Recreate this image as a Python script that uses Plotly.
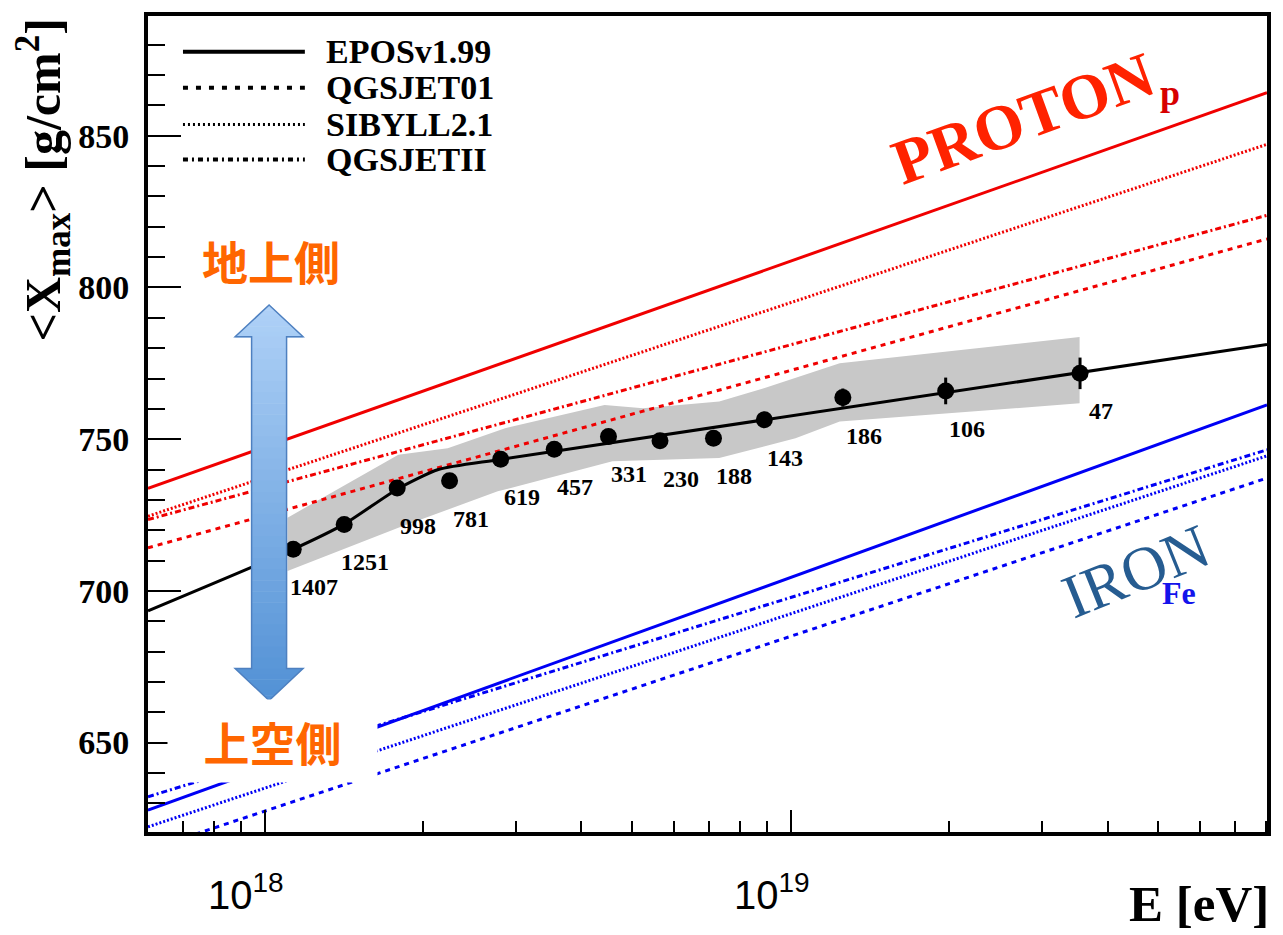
import numpy as np
import plotly.graph_objects as go

# ---------------- data ----------------
energy_eV = [1.133e18, 1.416e18, 1.786e18, 2.246e18, 2.809e18, 3.551e18, 4.503e18,
             5.642e18, 7.130e18, 8.907e18, 1.256e19, 1.970e19, 3.547e19]
xmax_mean = [713.7, 721.9, 733.9, 736.3, 743.4, 746.7, 750.9, 749.5, 750.3, 756.4, 763.7, 765.9, 771.7]
xmax_err = [2.0, 2.0, 2.0, 2.0, 2.0, 2.0, 2.0, 2.2, 2.4, 2.6, 3.0, 4.4, 5.2]
n_events = [1407, 1251, 998, 781, 619, 457, 331, 230, 188, 143, 186, 106, 47]

fit_energy_eV = [6.0e17, 1.132e18, 1.416e18, 1.786e18, 2.138e18, 2.818e18, 8.04e19]
fit_xmax = [693.4, 713.7, 722.0, 733.5, 740.0, 743.4, 781.2]

band_upper_E = [1.105e18, 1.795e18, 2.228e18, 2.864e18, 4.426e18, 5.236e18, 7.311e18, 8.892e18, 1.239e19, 3.540e19]
band_upper = [724.1, 744.9, 747.0, 753.6, 761.3, 760.2, 762.4, 766.8, 775.0, 783.7]
band_lower_E = [1.105e18, 1.795e18, 2.773e18, 4.581e18, 7.311e18, 1.021e19, 1.239e19, 3.540e19]
band_lower = [706.5, 720.8, 732.8, 742.7, 743.8, 750.3, 755.8, 761.8]

model_names = ["EPOSv1.99", "QGSJET01", "SIBYLL2.1", "QGSJETII"]
model_energy_eV = [6.0e17, 8.04e19]
proton_xmax = {
    "EPOSv1.99": [733.8, 864.2],
    "QGSJET01": [714.2, 816.0],
    "SIBYLL2.1": [724.6, 847.2],
    "QGSJETII": [723.5, 823.8],
}
iron_xmax = {
    "EPOSv1.99": [627.7, 761.3],
    "QGSJET01": [614.6, 737.2],
    "SIBYLL2.1": [622.2, 744.5],
    "QGSJETII": [632.1, 746.5],
}

y_major_ticks = [650, 700, 750, 800, 850]
x_label_vals = [1e18, 1e19]
x_label_text = ["10<sup>18</sup>", "10<sup>19</sup>"]

# ---------------- styles ----------------
dash_style = {
    "EPOSv1.99": "solid",
    "QGSJET01": "5px,5px",
    "SIBYLL2.1": "2px,2px",
    "QGSJETII": "6px,3px,2px,3px",
}
legend_dash = {
    "EPOSv1.99": "solid",
    "QGSJET01": "5px,8px",
    "SIBYLL2.1": "2px,3px",
    "QGSJETII": "5px,4px,2px,4px",
}
SERIF = "Liberation Serif, Times New Roman, serif"

W, H = 1283, 935
L, R, T, B = 148, 1268, 13, 832


def px(x):
    return (x - L) / (R - L)


def py(y):
    return (B - y) / (B - T)


fig = go.Figure()

# systematic band
fig.add_trace(go.Scatter(
    x=band_upper_E + band_lower_E[::-1],
    y=band_upper + band_lower[::-1],
    fill="toself", fillcolor="rgb(200,200,200)", line=dict(width=0),
    mode="lines", hoverinfo="skip", showlegend=False))

for name in model_names:
    fig.add_trace(go.Scatter(x=model_energy_eV, y=proton_xmax[name], mode="lines",
                             line=dict(color="rgb(240,0,0)", width=3, dash=dash_style[name]),
                             showlegend=False, name="p " + name))
    fig.add_trace(go.Scatter(x=model_energy_eV, y=iron_xmax[name], mode="lines",
                             line=dict(color="rgb(0,0,245)", width=3, dash=dash_style[name]),
                             showlegend=False, name="Fe " + name))

fig.add_trace(go.Scatter(x=fit_energy_eV, y=fit_xmax, mode="lines",
                         line=dict(color="black", width=3, shape="spline", smoothing=0.6),
                         showlegend=False))

fig.add_trace(go.Scatter(x=energy_eV, y=xmax_mean, mode="markers",
                         marker=dict(color="black", size=17),
                         error_y=dict(type="data", array=xmax_err, color="black", thickness=3, width=0),
                         showlegend=False))

# invisible trace for label axis
fig.add_trace(go.Scatter(x=[1e18], y=[700], xaxis="x2", mode="markers",
                         marker=dict(opacity=0), hoverinfo="skip", showlegend=False))

annotations = []
for e, v, n in zip(energy_eV, xmax_mean, n_events):
    annotations.append(dict(x=np.log10(e), y=v, xref="x", yref="y", text=str(n),
                            showarrow=False, xshift=21, yshift=-38,
                            xanchor="center", yanchor="middle",
                            font=dict(family=SERIF, size=24, color="black", weight="bold")))

shapes = []
# legend (drawn as key lines + texts)
legend_rows = [49, 85, 122, 157]
for name, ry in zip(model_names, legend_rows):
    shapes.append(dict(type="line", xref="paper", yref="paper",
                       x0=px(183), x1=px(305), y0=py(ry), y1=py(ry),
                       line=dict(color="black", width=4 if name != "SIBYLL2.1" else 3,
                                 dash=legend_dash[name]), layer="above"))
    annotations.append(dict(x=px(324), y=py(ry), xref="paper", yref="paper", text=name,
                            xanchor="left", yanchor="middle", showarrow=False,
                            font=dict(family=SERIF, size=34, color="black", weight="bold")))

# gradient double arrow
cx = 269.2
tip_top, base_top, base_bot, tip_bot = 303, 335, 668, 700
head_hw, shaft_hw = 34, 17.5
top_col = np.array([176, 210, 248])
bot_col = np.array([82, 145, 213])


def col_at(y):
    t = (y - tip_top) / (tip_bot - tip_top)
    c = top_col + (bot_col - top_col) * t
    return "rgb(%d,%d,%d)" % tuple(c.astype(int))


def add_slice(y0, y1, hw0, hw1):
    path = "M %f %f L %f %f L %f %f L %f %f Z" % (
        px(cx - hw0), py(y0), px(cx + hw0), py(y0),
        px(cx + hw1), py(y1), px(cx - hw1), py(y1))
    shapes.append(dict(type="path", xref="paper", yref="paper", path=path,
                       fillcolor=col_at((y0 + y1) / 2), line=dict(width=0), layer="above"))


nh = 6
for i in range(nh):
    y0 = tip_top + (base_top - tip_top) * i / nh
    y1 = tip_top + (base_top - tip_top) * (i + 1) / nh
    add_slice(y0, y1 + 0.6, head_hw * (y0 - tip_top) / (base_top - tip_top),
              head_hw * min(1, (y1 + 0.6 - tip_top) / (base_top - tip_top)))
ns = 30
for i in range(ns):
    y0 = base_top + (base_bot - base_top) * i / ns
    y1 = base_top + (base_bot - base_top) * (i + 1) / ns
    add_slice(y0, y1 + 0.6, shaft_hw, shaft_hw)
for i in range(nh):
    y0 = base_bot + (tip_bot - base_bot) * i / nh
    y1 = base_bot + (tip_bot - base_bot) * (i + 1) / nh
    add_slice(y0, min(tip_bot, y1 + 0.6), head_hw * (tip_bot - y0) / (tip_bot - base_bot),
              max(0, head_hw * (tip_bot - y1 - 0.6) / (tip_bot - base_bot)))
outline = [(cx, tip_top), (cx + head_hw, base_top), (cx + shaft_hw, base_top),
           (cx + shaft_hw, base_bot), (cx + head_hw, base_bot), (cx, tip_bot),
           (cx - head_hw, base_bot), (cx - shaft_hw, base_bot), (cx - shaft_hw, base_top),
           (cx - head_hw, base_top)]
path = "M " + " L ".join("%f %f" % (px(a), py(b)) for a, b in outline) + " Z"
shapes.append(dict(type="path", xref="paper", yref="paper", path=path,
                   line=dict(color="rgb(78,128,192)", width=1.5), layer="above"))


def ptxt(x, y, text, font, **kw):
    d = dict(x=px(x), y=py(y), xref="paper", yref="paper", text=text, showarrow=False,
             xanchor="center", yanchor="middle", font=font)
    d.update(kw)
    return d


# texts
annotations += [
    ptxt(271, 258, "地上側",
         dict(family="Noto Sans CJK JP", size=46, color="rgb(255,102,0)", weight="bold")),
    ptxt(272.5, 741, "上空側",
         dict(family="Noto Sans CJK JP", size=46, color="rgb(255,102,0)", weight="bold"),
         width=209, height=82, bgcolor="white", borderpad=0),
    ptxt(1024, 116, "PROTON",
         dict(family=SERIF, size=64, color="rgb(255,34,0)", weight="bold"), textangle=-20),
    ptxt(1171, 90, "p", dict(family=SERIF, size=36, color="rgb(215,0,0)", weight="bold")),
    ptxt(1137, 570, "IRON", dict(family=SERIF, size=62, color="rgb(38,92,145)"), textangle=-22),
    ptxt(1180, 592, "Fe", dict(family=SERIF, size=32, color="rgb(20,20,235)", weight="bold")),
    ptxt(43, 178, "&lt;X<sub>max</sub>&gt; [g/cm<sup>2</sup>]",
         dict(family=SERIF, size=50, color="black", weight="bold"), textangle=-90),
    ptxt(1200, 904, "E [eV]", dict(family=SERIF, size=51, color="black", weight="bold")),
]

xr = [np.log10(model_energy_eV[0]), np.log10(model_energy_eV[1])]
minor_vals = [m * 10.0 ** k for k in (17, 18, 19) for m in range(1, 10)
              if 10 ** xr[0] <= m * 10.0 ** k <= 10 ** xr[1]]

fig.update_layout(
    width=W, height=H,
    margin=dict(l=L, r=W - R, t=T, b=H - B),
    paper_bgcolor="white", plot_bgcolor="white",
    showlegend=False,
    xaxis=dict(type="log", range=xr, tickmode="array", tickvals=minor_vals,
               ticks="inside", ticklen=11, tickwidth=2, tickcolor="black",
               showticklabels=False, showgrid=False, zeroline=False,
               showline=True, linewidth=4, linecolor="black", mirror=True),
    xaxis2=dict(type="log", range=xr, overlaying="x", anchor="y", side="bottom",
                tickmode="array", tickvals=x_label_vals, ticktext=x_label_text,
                ticks="inside", ticklen=22, tickwidth=2, tickcolor="black",
                ticklabelshift=-19, ticklabelstandoff=36,
                tickfont=dict(family="Liberation Sans, Arial, sans-serif", size=40, color="black"),
                showgrid=False, zeroline=False, showline=False),
    yaxis=dict(range=[620.5, 889.5], tickmode="array", tickvals=y_major_ticks,
               ticks="inside", ticklen=33, tickwidth=2, tickcolor="black",
               minor=dict(dtick=10, tick0=650, ticks="inside", ticklen=17, tickwidth=2, tickcolor="black"),
               ticklabelstandoff=8,
               tickfont=dict(family=SERIF, size=34, color="black", weight="bold"),
               showgrid=False, zeroline=False,
               showline=True, linewidth=4, linecolor="black", mirror=True),
    shapes=shapes,
    annotations=annotations,
)

fig.write_html("out.html")
